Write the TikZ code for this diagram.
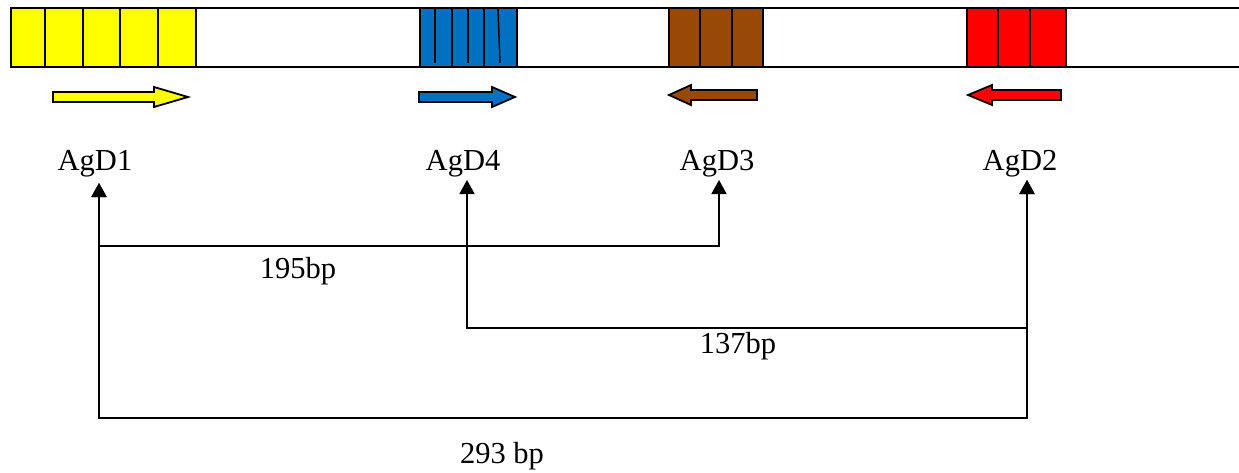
\documentclass[tikz,border=0pt]{standalone}
\usepackage{fontspec}
\setmainfont{Liberation Serif}
\usetikzlibrary{arrows.meta}
\definecolor{gyellow}{HTML}{FFFF00}
\definecolor{gblue}{HTML}{0070C0}
\definecolor{gbrown}{HTML}{984807}
\definecolor{gred}{HTML}{FF0000}
\tikzset{
  track/.style={line width=2.6pt},
  divider/.style={line width=2pt},
  blockarrow/.style={draw=black, line width=1.8pt, line join=miter},
  label/.style={font=\fontsize{30.5}{33}\selectfont, inner sep=0pt, anchor=base},
  dist/.style={line width=1.8pt, {Triangle[width=15pt,length=14pt]}-{Triangle[width=15pt,length=14pt]}},
}
\begin{document}
\begin{tikzpicture}[x=1pt,y=-1pt]
\useasboundingbox (0,0) rectangle (1239,472);
% gene boxes
\fill[gyellow] (11,8) rectangle (196,67);
\fill[gblue] (420,8) rectangle (517,67);
\fill[gbrown] (669,8) rectangle (763,67);
\fill[gred] (967,8) rectangle (1066,67);
\foreach \x in {45,83,120,158,196} \draw[divider] (\x,8) -- (\x,67);
\foreach \x in {420,452,484,517} \draw[divider] (\x,8) -- (\x,67);
\foreach \x in {435,468} \draw[line width=1.5pt] (\x,9) -- (\x,63);
\draw[line width=1.5pt] (498,9) -- (500,63);
\foreach \x in {669,700,732,763} \draw[divider] (\x,8) -- (\x,67);
\foreach \x in {967,998,1030,1066} \draw[divider] (\x,8) -- (\x,67);
% track
\draw[track] (1239,8) -- (11,8) -- (11,67) -- (1239,67);
% block arrows
\draw[blockarrow, fill=gyellow] (53,92) -- (154,92) -- (154,87) -- (188,97) -- (154,107) -- (154,102) -- (53,102) -- cycle;
\draw[blockarrow, fill=gblue] (419,92) -- (492,92) -- (492,87) -- (515,97) -- (492,107) -- (492,102) -- (419,102) -- cycle;
\draw[blockarrow, fill=gbrown] (757,90) -- (691,90) -- (691,85) -- (669,95) -- (691,105) -- (691,100) -- (757,100) -- cycle;
\draw[blockarrow, fill=gred] (1061,90) -- (992,90) -- (992,85) -- (968,95) -- (992,105) -- (992,100) -- (1061,100) -- cycle;
% labels
\node[label] (agd1) at (95,170) {AgD1};
\node[label] (agd4) at (463,170) {AgD4};
\node[label] (agd3) at (717,170) {AgD3};
\node[label] (agd2) at (1020,170) {AgD2};
% vertical positions of connectors
\coordinate (x1) at (99,183);
\coordinate (x4) at (467,180);
\coordinate (x3) at (719,180);
\coordinate (x2) at (1027,180);
% distance connectors
\draw[dist] (x1) -- (99,246) -- (719,246) -- (x3);
\draw[dist] (x4) -- (467,328) -- (1027,328) -- (x2);
\draw[dist] (x1) -- (99,418) -- (1027,418) -- (x2);
% distance labels
\node[label] (d195) at (298,278) {195bp};
\node[label] (d137) at (738,353) {137bp};
\node[label] (d293) at (502,463) {293 bp};
\end{tikzpicture}
\end{document}
